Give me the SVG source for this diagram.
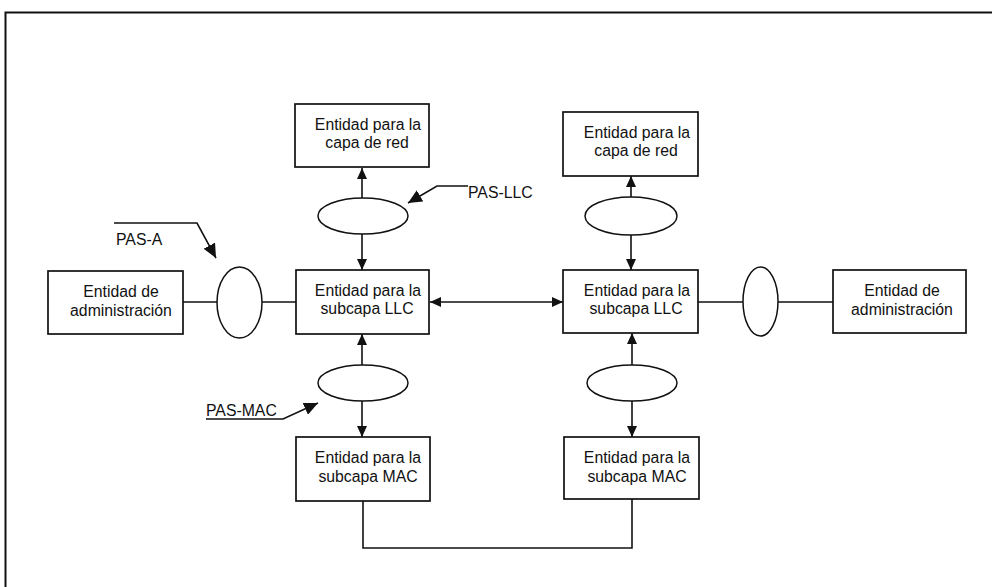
<svg xmlns="http://www.w3.org/2000/svg" width="992" height="587" viewBox="0 0 992 587">
<defs>
<style>
.box{fill:#fff;stroke:#111;stroke-width:1.7}
.ell{fill:#fff;stroke:#111;stroke-width:1.5}
.ln{fill:none;stroke:#111;stroke-width:1.6}
.t{font-family:"Liberation Sans",Arial,sans-serif;font-size:15.8px;fill:#111;text-anchor:middle}
.lbl{font-family:"Liberation Sans",Arial,sans-serif;font-size:15.8px;fill:#111}
</style>
<marker id="ah" markerUnits="userSpaceOnUse" markerWidth="11" markerHeight="10" refX="11" refY="5" orient="auto-start-reverse" viewBox="0 0 11 10">
<path d="M0,0 L11,5 L0,10 z" fill="#111"/>
</marker>
<marker id="big" markerUnits="userSpaceOnUse" markerWidth="14" markerHeight="13" refX="14" refY="6.5" orient="auto" viewBox="0 0 14 13">
<path d="M0,0 L14,6.5 L0,13 z" fill="#111"/>
</marker>
</defs>
<rect width="992" height="587" fill="#fff"/>
<path d="M5.5,587 V12.5 H992" fill="none" stroke="#111" stroke-width="2"/>

<g id="connectors">
<line class="ln" x1="362" y1="198" x2="362" y2="168" marker-end="url(#ah)"/>
<line class="ln" x1="362" y1="234" x2="362" y2="270" marker-end="url(#ah)"/>
<line class="ln" x1="631" y1="197" x2="631" y2="176" marker-end="url(#ah)"/>
<line class="ln" x1="631" y1="235" x2="631" y2="270" marker-end="url(#ah)"/>
<line class="ln" x1="362" y1="365" x2="362" y2="334" marker-end="url(#ah)"/>
<line class="ln" x1="362" y1="401" x2="362" y2="437" marker-end="url(#ah)"/>
<line class="ln" x1="632" y1="365" x2="632" y2="333" marker-end="url(#ah)"/>
<line class="ln" x1="632" y1="401" x2="632" y2="437" marker-end="url(#ah)"/>
<line class="ln" x1="430" y1="302" x2="563" y2="302" marker-start="url(#ah)" marker-end="url(#ah)"/>
<line class="ln" x1="183" y1="302" x2="217" y2="302"/>
<line class="ln" x1="262" y1="302" x2="296" y2="302"/>
<line class="ln" x1="698" y1="302" x2="743" y2="302"/>
<line class="ln" x1="778" y1="302" x2="833" y2="302"/>
<path class="ln" d="M363,501 V548 H632 V499"/>
<path class="ln" d="M468,186 H437 L408,203" marker-end="url(#big)"/>
<path class="ln" d="M114,223 H197 L216,258" marker-end="url(#big)"/>
<path class="ln" d="M206,419 H283 L318,403" marker-end="url(#big)"/>
</g>

<g id="capa-red-1">
<rect class="box" x="295" y="104" width="134" height="63"/>
<text class="t" x="368" y="130">Entidad para la</text>
<text class="t" x="367" y="148">capa de red</text>
</g>
<g id="capa-red-2">
<rect class="box" x="563" y="112" width="135" height="64"/>
<text class="t" x="637" y="138">Entidad para la</text>
<text class="t" x="636" y="156">capa de red</text>
</g>
<g id="pas-llc-1"><ellipse class="ell" cx="363" cy="216" rx="45" ry="18"/></g>
<g id="pas-llc-2"><ellipse class="ell" cx="631" cy="216" rx="46" ry="19"/></g>
<g id="llc-1">
<rect class="box" x="296" y="270" width="133" height="64"/>
<text class="t" x="368" y="296">Entidad para la</text>
<text class="t" x="367" y="314">subcapa LLC</text>
</g>
<g id="llc-2">
<rect class="box" x="563" y="270" width="135" height="63"/>
<text class="t" x="637" y="296">Entidad para la</text>
<text class="t" x="636" y="314">subcapa LLC</text>
</g>
<g id="admin-1">
<rect class="box" x="48" y="271" width="135" height="63"/>
<text class="t" x="121" y="297">Entidad de</text>
<text class="t" x="121" y="316">administración</text>
</g>
<g id="admin-2">
<rect class="box" x="833" y="270" width="133" height="63"/>
<text class="t" x="902" y="296">Entidad de</text>
<text class="t" x="902" y="315">administración</text>
</g>
<g id="pas-a-1"><ellipse class="ell" cx="239.5" cy="302.5" rx="22.5" ry="35.5"/></g>
<g id="pas-a-2"><ellipse class="ell" cx="760.5" cy="301.5" rx="17.5" ry="34.5"/></g>
<g id="pas-mac-1"><ellipse class="ell" cx="363" cy="383" rx="45" ry="18"/></g>
<g id="pas-mac-2"><ellipse class="ell" cx="632" cy="383" rx="45" ry="18"/></g>
<g id="mac-1">
<rect class="box" x="296" y="437" width="134" height="64"/>
<text class="t" x="368" y="463">Entidad para la</text>
<text class="t" x="368" y="482">subcapa MAC</text>
</g>
<g id="mac-2">
<rect class="box" x="564" y="437" width="135" height="62"/>
<text class="t" x="637" y="463">Entidad para la</text>
<text class="t" x="637" y="482">subcapa MAC</text>
</g>
<g id="labels">
<text class="lbl" x="468" y="198">PAS-LLC</text>
<text class="lbl" x="116" y="245">PAS-A</text>
<text class="lbl" x="206" y="416">PAS-MAC</text>
</g>
</svg>
